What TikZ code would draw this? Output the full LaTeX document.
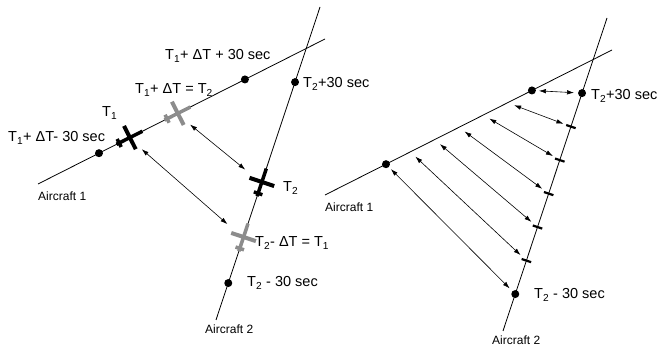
\documentclass[tikz,border=0pt]{standalone}
\usepackage{fontspec}
\setmainfont{Liberation Sans}
\usepackage{xcolor}
\definecolor{PlaneGray}{RGB}{140,140,140}
\usetikzlibrary{arrows.meta, calc, positioning}
\newcommand{\sub}[1]{\textsubscript{#1}}
\tikzset{
  % Flight track
  track/.style={line width=0.8pt},
  % Time mark on a track
  dotnode/.style={circle, fill=black, inner sep=0pt, minimum size=8pt},
  % Labels
  lbl/.style={anchor=base west, inner sep=0pt, font=\fontsize{14.5}{16}\selectfont},
  lblsm/.style={anchor=base west, inner sep=0pt, font=\fontsize{12}{14}\selectfont},
  % Separation arrows
  arr/.style={{Latex[length=7pt,width=4.5pt]}-{Latex[length=7pt,width=4.5pt]}, line width=0.6pt},
  tickmark/.style={line width=2.2pt},
  % Aircraft symbol, heading along +x
  plane/.pic={
    \draw[line width=3.5pt, #1] (-14,0) -- (15,0);
    \draw[line width=4pt, #1] (1,-13) -- (1,13);
    \draw[line width=3.5pt, #1] (-11,-4.5) -- (-11,4.5);
  },
}

\begin{document}
\begin{tikzpicture}[x=1pt, y=1pt]
  \useasboundingbox (0,0) rectangle (657,350);

  %% Left panel: tracks
  \coordinate (a1s) at (38,166);
  \coordinate (a1e) at (325,311);
  \coordinate (a2s) at (216,30);
  \coordinate (a2e) at (320,343);
  \draw[track] (a1s) -- (a1e);
  \draw[track] (a2s) -- (a2e);

  %% Time marks
  \node[dotnode] (d1m) at ($(a1s)!0.2125!(a1e)$) {};
  \node[dotnode] (d1p) at ($(a1s)!0.721!(a1e)$) {};
  \node[dotnode] (d2m) at ($(a2s)!0.118!(a2e)$) {};
  \node[dotnode] (d2p) at ($(a2s)!0.760!(a2e)$) {};

  %% Aircraft positions
  \coordinate (p1) at ($(a1s)!0.317!(a1e)$);
  \coordinate (g1) at ($(a1s)!0.484!(a1e)$);
  \coordinate (p2) at ($(a2s)!0.438!(a2e)$);
  \coordinate (g2) at ($(a2s)!0.262!(a2e)$);
  \pic[rotate=26.8] at (p1) {plane=black};
  \pic[rotate=26.8] at (g1) {plane=PlaneGray};
  \pic[rotate=71.6] at (p2) {plane=black};
  \pic[rotate=71.6] at (g2) {plane=PlaneGray};

  \draw[arr, shorten <=17pt, shorten >=21pt] (g1) -- (p2);
  \draw[arr, shorten <=17pt, shorten >=21pt] (p1) -- (g2);

  %% Labels
  \node[lbl] (l1p) at (165,290) {T\sub{1}+ ΔT + 30 sec};
  \node[lbl] (l1g) at (135,256) {T\sub{1}+ ΔT = T\sub{2}};
  \node[lbl] (l1) at (102,233) {T\sub{1}};
  \node[lbl] (l1m) at (8,208) {T\sub{1}+ ΔT- 30 sec};
  \node[lbl] (l2p) at (303,262) {T\sub{2}+30 sec};
  \node[lbl] (l2) at (283,158) {T\sub{2}};
  \node[lbl] (l2g) at (255,103) {T\sub{2}- ΔT = T\sub{1}};
  \node[lbl] (l2m) at (247,63) {T\sub{2} - 30 sec};
  \node[lblsm] (ac1) at (38,149) {Aircraft 1};
  \node[lblsm] (ac2) at (205,16) {Aircraft 2};

  %% Right panel: same tracks, shifted
  \begin{scope}[shift={(287,-11)}]
    \coordinate (ra1s) at (38,166);
    \coordinate (ra1e) at (325,311);
    \coordinate (ra2s) at (216,30);
    \coordinate (ra2e) at (320,343);
    \draw[track] (ra1s) -- (ra1e);
    \draw[track] (ra2s) -- (ra2e);

    \node[dotnode] (rd1m) at ($(ra1s)!0.2125!(ra1e)$) {};
    \node[dotnode] (rd1p) at ($(ra1s)!0.721!(ra1e)$) {};
    \node[dotnode] (rd2m) at ($(ra2s)!0.118!(ra2e)$) {};
    \node[dotnode] (rd2p) at ($(ra2s)!0.760!(ra2e)$) {};

    % sample points along both tracks
    \foreach \i in {0,...,6} {
      \coordinate (ra\i) at ($(rd1m.center)!\i/6!(rd1p.center)$);
      \coordinate (rb\i) at ($(rd2m.center)!\i/6!(rd2p.center)$);
      \draw[arr, shorten <=7pt, shorten >=8pt] (ra\i) -- (rb\i);
    }
    \foreach \i in {1,...,5}
      \draw[tickmark] ($(rb\i)!5pt!90:(rd2p.center)$) -- ($(rb\i)!5pt!-90:(rd2p.center)$);

    \node[lbl] (rl2p) at (304,261) {T\sub{2}+30 sec};
    \node[lbl] (rl2m) at (247,62) {T\sub{2} - 30 sec};
    \node[lblsm] (rac1) at (38,149) {Aircraft 1};
    \node[lblsm] (rac2) at (205,16) {Aircraft 2};
  \end{scope}
\end{tikzpicture}
\end{document}
